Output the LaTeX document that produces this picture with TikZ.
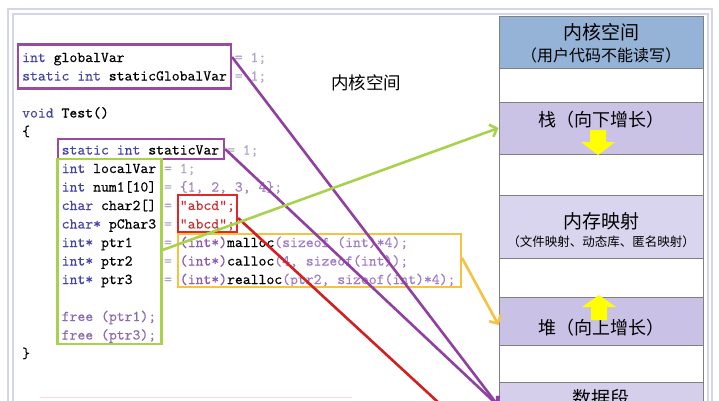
\documentclass[tikz,border=0pt]{standalone}
\usepackage{fontspec}
\setmonofont{lmmono10-regular.otf}[FakeBold=0.35]
\newfontfamily\cjk{Noto Sans CJK SC}
\usetikzlibrary{arrows.meta,calc}
\definecolor{framec}{HTML}{D4D4EA}
\definecolor{kwc}{HTML}{4444A8}
\definecolor{dimc}{HTML}{B0A4C8}
\definecolor{numc}{HTML}{A080C0}
\definecolor{strc}{HTML}{C83232}
\definecolor{purc}{HTML}{8E5AAE}
\definecolor{argc}{HTML}{A07CC4}
\definecolor{freec}{HTML}{8C6CB0}
\definecolor{boxpur}{HTML}{9A4AA0}
\definecolor{linepur}{HTML}{9040A0}
\definecolor{boxgreen}{HTML}{A8D24C}
\definecolor{boxred}{HTML}{E02828}
\definecolor{linered}{HTML}{D22020}
\definecolor{boxorange}{HTML}{F5C242}
\definecolor{kernfill}{HTML}{95B3D7}
\definecolor{stackfill}{HTML}{CBC3E6}
\definecolor{mmapfill}{HTML}{DAD5EE}
\definecolor{heapfill}{HTML}{C9C2E6}
\definecolor{datafill}{HTML}{D5CFEC}
\definecolor{rowline}{HTML}{808080}
\definecolor{growc}{HTML}{FFFF00}
\definecolor{faintpink}{HTML}{F6D6E0}
\newcommand\ckw[1]{\textcolor{kwc}{#1}}
\newcommand\cdm[1]{\textcolor{dimc}{#1}}
\newcommand\cnm[1]{\textcolor{numc}{#1}}
\newcommand\cst[1]{\textcolor{strc}{#1}}
\newcommand\cpr[1]{\textcolor{purc}{#1}}
\newcommand\carg[1]{\textcolor{argc}{#1}}
\newcommand\cfr[1]{\textcolor{freec}{#1}}
\begin{document}
\begin{tikzpicture}[x=1pt,y=-1pt,
  codeline/.style={anchor=base west,inner sep=0pt,font=\fontsize{15}{18}\selectfont\ttfamily},
  hlbox/.style={draw,line width=2.1pt,inner sep=0pt},
  memrow/.style={draw=rowline,line width=1pt,minimum width=204pt,inner sep=0pt},
  cjklabel/.style={inner sep=0pt,font=\cjk},
  conn/.style={line width=2.6pt,-{Straight Barb[length=6pt,width=13pt]}},
  connfree/.style={line width=2.6pt}
]
\useasboundingbox (0,0) rectangle (719,400);
% frame
\draw[framec,line width=2pt] (8,9) rectangle (712,440);
\draw[framec,line width=2pt] (12.5,13.5) rectangle (707.5,440);
% code lines
\node[codeline] (c1) at (22,62) {\ckw{int} globalVar~~~~~~~~~~~~~~\cdm{= 1;}};
\node[codeline] (c2) at (22,80.5) {\ckw{static int} staticGlobalVar \cdm{= 1;}};
\node[codeline] (c3) at (22,117.5) {\ckw{void} Test()};
\node[codeline] (c4) at (22,136) {\{};
\node[codeline] (c5) at (61.5,154.5) {\ckw{static int} staticVar \cdm{= 1;}};
\node[codeline] (c6) at (61.5,173) {\ckw{int} localVar \cdm{= 1;}};
\node[codeline] (c7) at (61.5,191.5) {\ckw{int} num1[10] \cdm{= }\cnm{\{1, 2, 3, 4\};}};
\node[codeline] (c8) at (61.5,210) {\ckw{char} char2[] \cdm{= }\cst{"abcd";}};
\node[codeline] (c9) at (61.5,228.5) {\ckw{char*} pChar3 \cdm{= }\cst{"abcd";}};
\node[codeline] (c10) at (61.5,247) {\ckw{int*} ptr1~~~~\cdm{= }\cpr{(int*)}malloc\carg{(sizeof (int)*4);}};
\node[codeline] (c11) at (61.5,265.5) {\ckw{int*} ptr2~~~~\cdm{= }\cpr{(int*)}calloc\carg{(4, sizeof(int));}};
\node[codeline] (c12) at (61.5,284) {\ckw{int*} ptr3~~~~\cdm{= }\cpr{(int*)}realloc\carg{(ptr2, sizeof(int)*4);}};
\node[codeline] (c13) at (61.5,321) {\cfr{free (ptr1);}};
\node[codeline] (c14) at (61.5,339.5) {\cfr{free (ptr3);}};
\node[codeline] (c15) at (22,358) {\}};
% middle label
\node[cjklabel,font=\cjk\fontsize{17.5}{20}\selectfont] (midlabel) at (366,83) {内核空间};
% highlight boxes
\node[hlbox,draw=boxpur,minimum width=213pt,minimum height=44pt] (gbox) at (124.5,66.5) {};
\node[hlbox,draw=boxpur,minimum width=166pt,minimum height=20pt] (sbox) at (141,149) {};
\node[hlbox,draw=boxgreen,minimum width=104pt,minimum height=185pt] (lbox) at (109.5,251.5) {};
\node[hlbox,draw=boxred,minimum width=59pt,minimum height=37pt] (rbox) at (207.5,213.5) {};
\node[hlbox,draw=boxorange,minimum width=283pt,minimum height=53pt] (obox) at (319.5,260.5) {};
% faint line at bottom
\draw[faintpink,line width=1.2pt] (40,397.5) -- (352,397.5);
% memory column
\node[memrow,fill=kernfill,minimum height=52pt] (kern) at (601,42) {};
\node[memrow,fill=white,minimum height=34pt] (gap1) at (601,85) {};
\node[memrow,fill=stackfill,minimum height=52pt] (stack) at (601,128) {};
\node[memrow,fill=white,minimum height=41pt] (gap2) at (601,174.5) {};
\node[memrow,fill=mmapfill,minimum height=63pt] (mmap) at (601,226.5) {};
\node[memrow,fill=white,minimum height=39pt] (gap3) at (601,277.5) {};
\node[memrow,fill=heapfill,minimum height=48pt] (heap) at (601,321) {};
\node[memrow,fill=white,minimum height=37pt] (gap4) at (601,363.5) {};
\node[memrow,fill=datafill,minimum height=48pt] (data) at (601,406) {};
% memory labels
\node[cjklabel,font=\cjk\fontsize{19}{22}\selectfont] (kernt1) at (601,32) {内核空间};
\node[cjklabel,font=\cjk\fontsize{16}{19}\selectfont] (kernt2) at (601,55) {（用户代码不能读写）};
\node[cjklabel,font=\cjk\fontsize{18}{21}\selectfont] (stackt) at (601,120) {栈（向下增长）};
\node[cjklabel,font=\cjk\fontsize{19}{22}\selectfont] (mmapt1) at (601,221) {内存映射};
\node[cjklabel,font=\cjk\fontsize{12.5}{15}\selectfont] (mmapt2) at (601,242) {（文件映射、动态库、匿名映射）};
\node[cjklabel,font=\cjk\fontsize{18}{21}\selectfont] (heapt) at (601,328) {堆（向上增长）};
\node[cjklabel,font=\cjk\fontsize{19}{22}\selectfont] (datat) at (601,398) {数据段};
% growth arrows
\fill[growc] (590,130) -- (606,130) -- (606,142) -- (615,142) -- (598,155) -- (581,142) -- (590,142) -- cycle;
\fill[growc] (591,320) -- (607,320) -- (607,307) -- (616,307) -- (599,295) -- (582,307) -- (591,307) -- cycle;
% connectors
\coordinate (codeseg) at (490,450);
\draw[conn,linepur] ([yshift=9.5pt]gbox.east) -- (data.west);
\draw[conn,linepur] (sbox.east) -- (data.west);
\draw[connfree,linered] ([yshift=-4.5pt]rbox.east) -- (codeseg);
\draw[conn,boxgreen] ([yshift=1.5pt]lbox.east) -- (stack.west);
\draw[conn,boxorange] ([yshift=2.5pt]obox.east) -- ([yshift=-4pt]heap.west);
\end{tikzpicture}
\end{document}
